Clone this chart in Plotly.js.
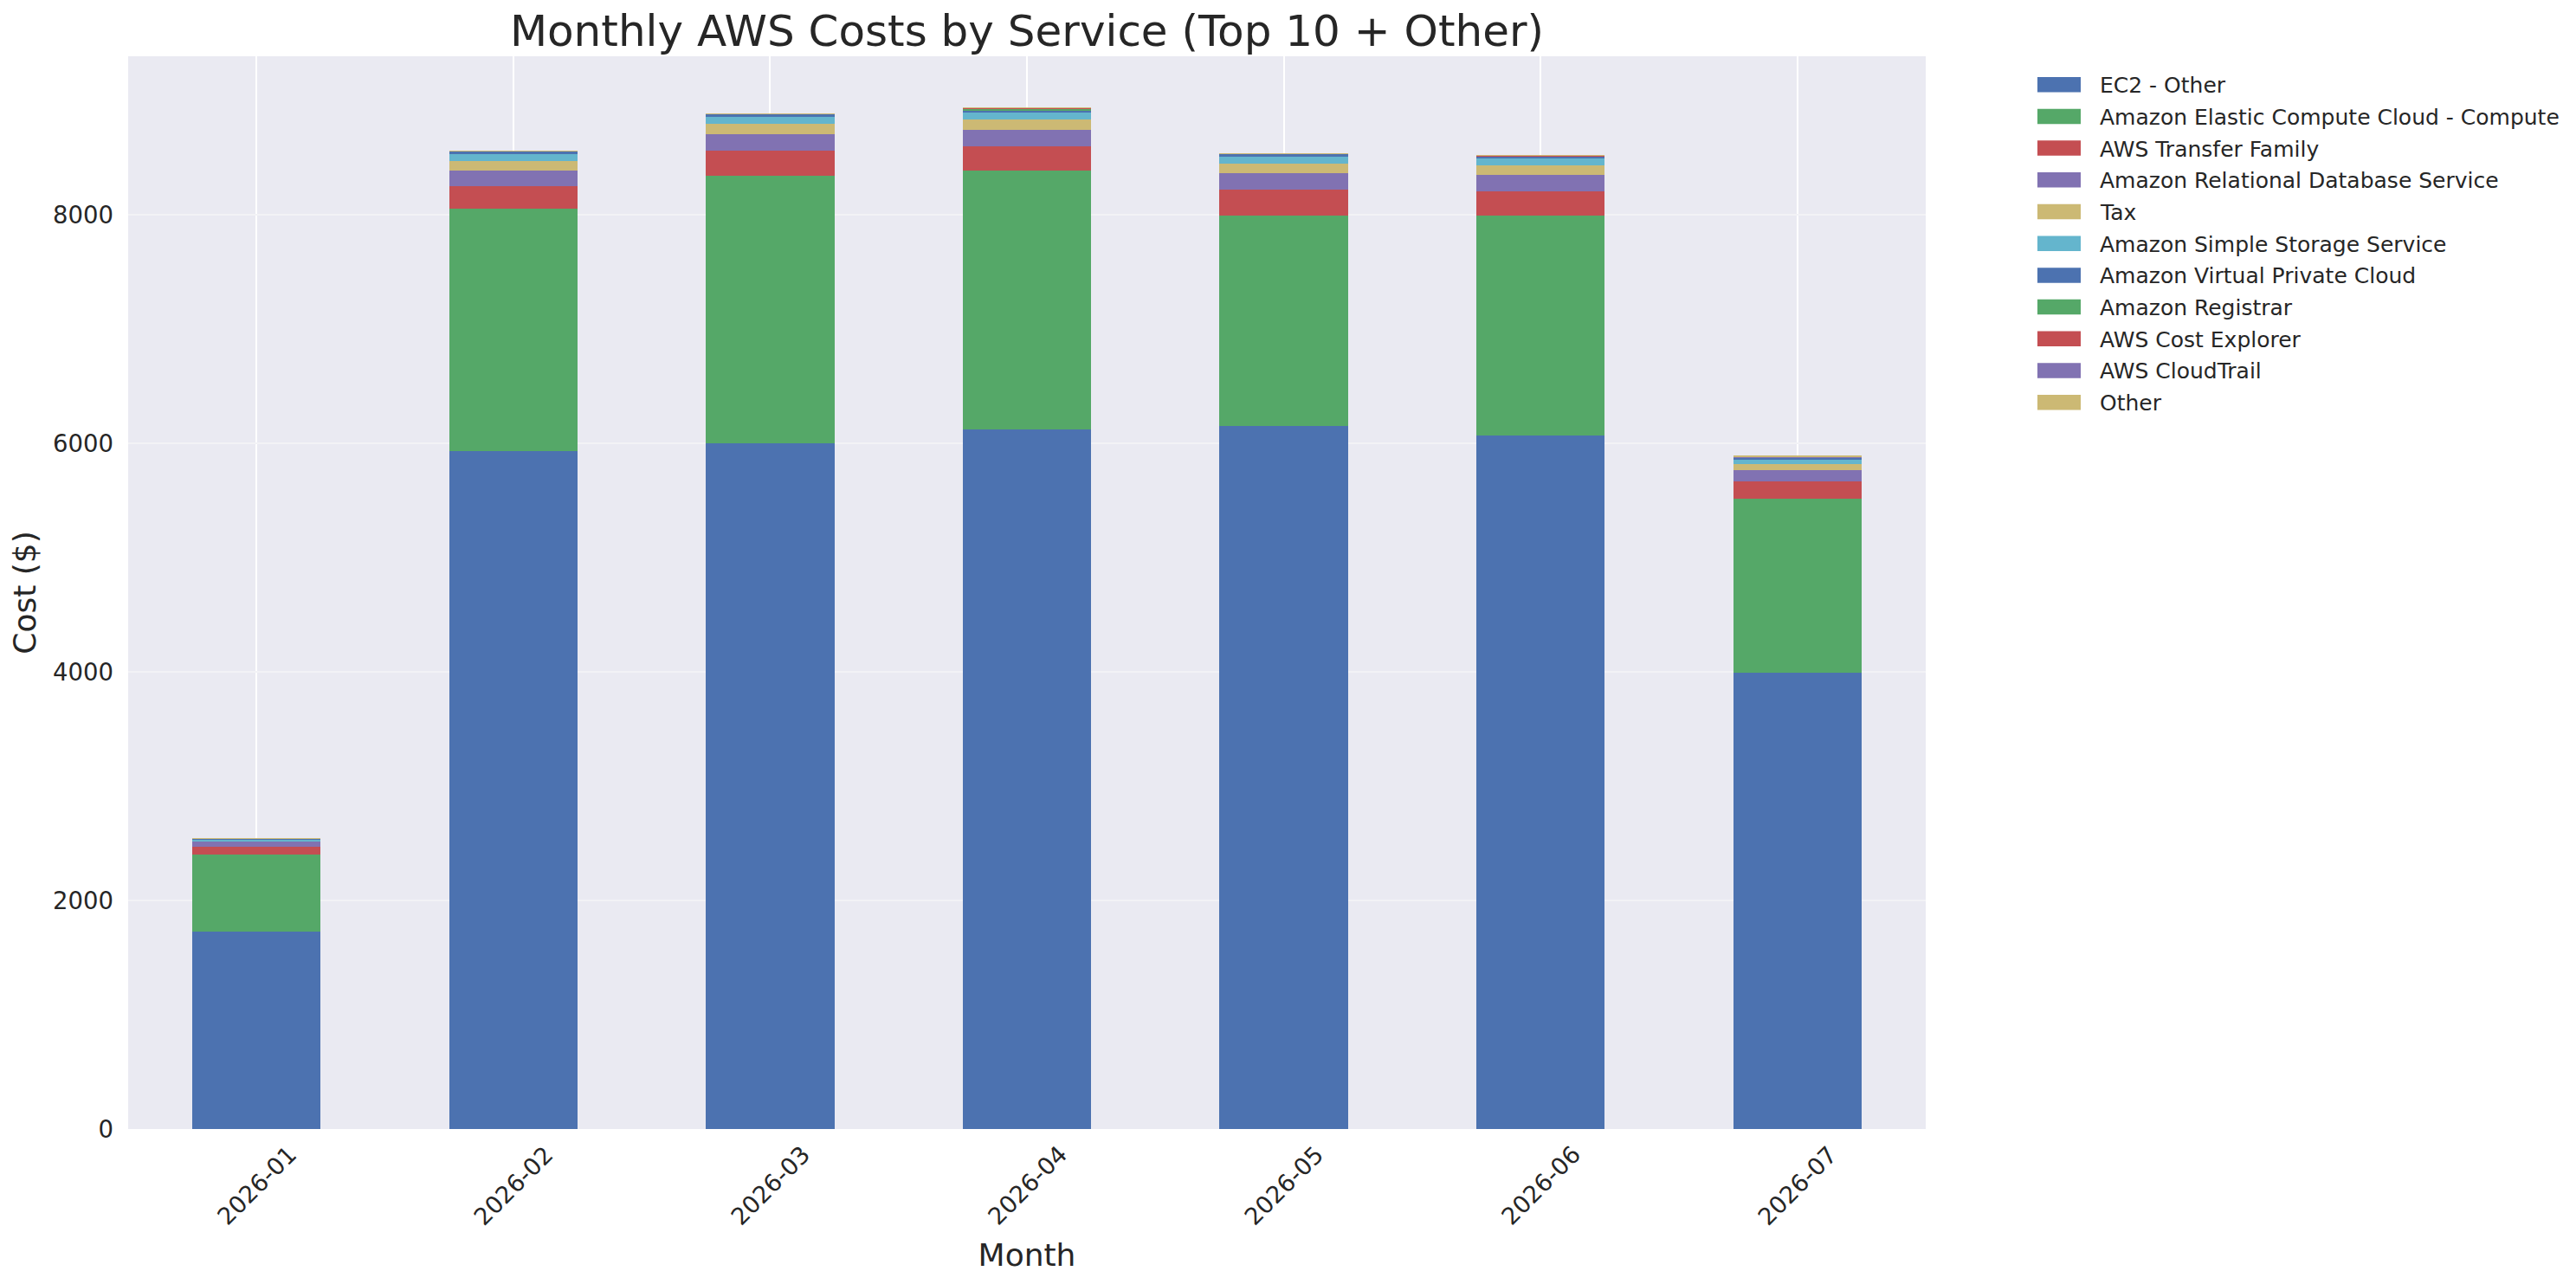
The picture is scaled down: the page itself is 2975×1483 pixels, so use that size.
<!DOCTYPE html>
<html>
<head>
<meta charset="utf-8">
<script src="https://cdn.plot.ly/plotly-3.0.1.min.js"></script>
<style>
  html, body { margin: 0; padding: 0; background: #ffffff; }
  #chart { width: 2975px; height: 1483px; }
</style>
</head>
<body>
<div id="chart"></div>
<script>
// ---- Data ----
const months = ['2026-01', '2026-02', '2026-03', '2026-04', '2026-05', '2026-06', '2026-07'];

const serviceNames = [
  'EC2 - Other',
  'Amazon Elastic Compute Cloud - Compute',
  'AWS Transfer Family',
  'Amazon Relational Database Service',
  'Tax',
  'Amazon Simple Storage Service',
  'Amazon Virtual Private Cloud',
  'Amazon Registrar',
  'AWS Cost Explorer',
  'AWS CloudTrail',
  'Other'
];

const ec2Other     = [1730, 5932, 6003, 6124, 6154, 6070, 3993];
const ec2Compute   = [672, 2121, 2338, 2263, 1839, 1923, 1522];
const transfer     = [68, 197, 220, 212, 227, 212, 154];
const rds          = [48, 137, 144, 144, 144, 144, 96];
const tax          = [0, 83, 91, 91, 83, 83, 56];
const s3           = [15, 61, 60, 60, 61, 61, 43];
const vpc          = [8, 30, 30, 23, 30, 23, 15];
const registrar    = [0, 0, 0, 15, 0, 0, 0];
const costExplorer = [0, 0, 0, 8, 0, 7, 0];
const cloudTrail   = [0, 0, 0, 0, 0, 0, 8];
const other        = [2, 2, 2, 2, 2, 2, 2];

const yTicks = [0, 2000, 4000, 6000, 8000];

// ---- Styling ----
const palette = ['#4C72B0', '#55A868', '#C44E52', '#8172B2', '#CCB974', '#64B5CD'];
const seriesValues = [ec2Other, ec2Compute, transfer, rds, tax, s3, vpc, registrar, costExplorer, cloudTrail, other];
const FONT = 'DejaVu Sans, sans-serif';
const TEXT = '#262626';

const W = 2975, H = 1483;
const M = { l: 148, r: 751, t: 65, b: 179 };
const plotW = W - M.l - M.r, plotH = H - M.t - M.b;
const px2x = px => (px - M.l) / plotW;          // page px -> paper x
const py2y = py => (H - M.b - py) / plotH;      // page px -> paper y

const traces = serviceNames.map((name, i) => ({
  type: 'bar',
  name: name,
  x: months,
  y: seriesValues[i],
  width: 0.5,
  marker: { color: palette[i % palette.length], line: { width: 0 } },
  hoverinfo: 'x+y+name',
  showlegend: false
}));

const totals = months.map((m, j) => seriesValues.reduce((s, arr) => s + arr[j], 0));
const yMax = Math.max(...totals) * 1.05;

const monthLabels = months.map(m => ({
  x: m, xref: 'x',
  y: 0, yref: 'paper',
  xanchor: 'center', yanchor: 'middle',
  yshift: -65,
  textangle: -45,
  showarrow: false,
  text: m,
  font: { family: FONT, size: 27.5, color: TEXT }
}));

// Legend (matplotlib-style wide patches)
const LEG = { patchL: 2353, patchR: 2403, textX: 2423, row0: 97.7, rowH: 36.7, patchH: 17.5 };
const legendShapes = serviceNames.map((name, i) => {
  const cy = LEG.row0 + i * LEG.rowH;
  return {
    type: 'rect', xref: 'paper', yref: 'paper',
    x0: px2x(LEG.patchL), x1: px2x(LEG.patchR),
    y0: py2y(cy + LEG.patchH / 2), y1: py2y(cy - LEG.patchH / 2),
    fillcolor: palette[i % palette.length],
    line: { width: 0 }, layer: 'above'
  };
});
const legendTexts = serviceNames.map((name, i) => ({
  xref: 'paper', yref: 'paper',
  x: px2x(LEG.textX), y: py2y(LEG.row0 + i * LEG.rowH + 1),
  xanchor: 'left', yanchor: 'middle',
  showarrow: false,
  text: name,
  font: { family: FONT, size: 25, color: TEXT }
}));

const layout = {
  width: W,
  height: H,
  paper_bgcolor: '#ffffff',
  plot_bgcolor: '#EAEAF2',
  margin: { l: M.l, r: M.r, t: M.t, b: M.b, pad: 0 },
  barmode: 'stack',
  font: { family: FONT, color: TEXT },
  title: {
    text: 'Monthly AWS Costs by Service (Top 10 + Other)',
    font: { family: FONT, size: 50, color: TEXT },
    x: 0.5, xref: 'paper', xanchor: 'center',
    y: 1 - 35 / H, yref: 'container', yanchor: 'middle'
  },
  xaxis: {
    type: 'category',
    range: [-0.5, 6.5],
    showgrid: true,
    gridcolor: '#FFFFFF',
    gridwidth: 2,
    zeroline: false,
    showline: false,
    ticks: '',
    showticklabels: false,
    title: { text: 'Month', font: { family: FONT, size: 36, color: TEXT }, standoff: 132 },
    automargin: false
  },
  yaxis: {
    range: [0, yMax],
    tickvals: yTicks,
    ticktext: yTicks.map(v => String(v)),
    showgrid: true,
    gridcolor: '#F2F2F6',
    gridwidth: 2,
    zeroline: false,
    showline: false,
    ticks: '',
    ticklabelstandoff: 16,
    tickfont: { family: FONT, size: 27.5, color: TEXT },
    title: { text: 'Cost ($)', font: { family: FONT, size: 36, color: TEXT }, standoff: 8 },
    automargin: false
  },
  showlegend: false,
  shapes: legendShapes,
  annotations: monthLabels.concat(legendTexts)
};

Plotly.newPlot('chart', traces, layout, { displayModeBar: false, responsive: false });
</script>
</body>
</html>
